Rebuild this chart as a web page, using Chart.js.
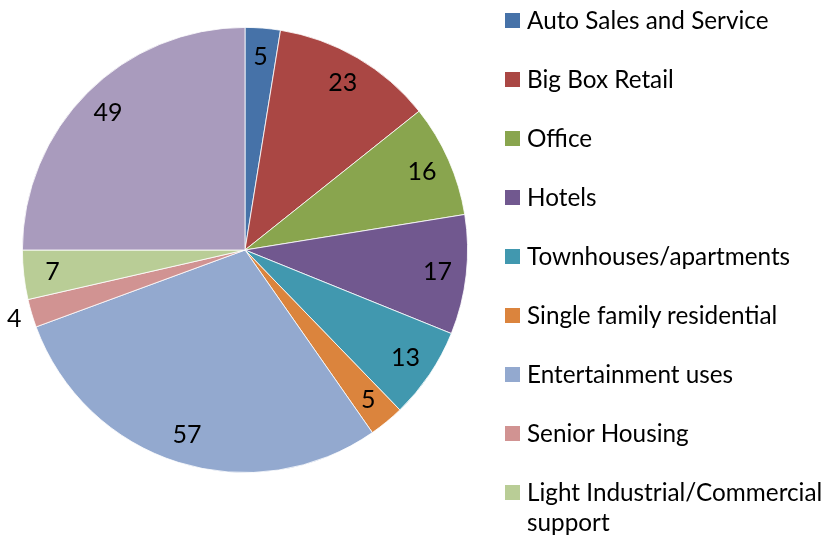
<!DOCTYPE html>
<html>
<head>
<meta charset="utf-8">
<script src="https://cdn.jsdelivr.net/npm/chart.js@4"></script>
<style>
  body { margin: 0; background: #fff; }
  #wrap { position: relative; width: 830px; height: 540px; }
  #legend { position: absolute; left: 505px; top: 0; font-family: Lato, sans-serif; font-size: 24.3px; color: #000; }
  .item { position: absolute; left: 0; width: 330px; line-height: 30px; }
  .box { position: absolute; left: 0; top: 8px; width: 15px; height: 15px; }
  .txt { position: absolute; left: 22px; white-space: nowrap; }
</style>
</head>
<body>
<div id="wrap">
  <canvas id="myChart" width="830" height="540"></canvas>
  <div id="legend"></div>
</div>
<script>
// chart data
var labels = ["Auto Sales and Service", "Big Box Retail", "Office", "Hotels",
  "Townhouses/apartments", "Single family residential", "Entertainment uses",
  "Senior Housing", "Light Industrial/Commercial support", "Other"];
var values = [5, 23, 16, 17, 13, 5, 57, 4, 7, 49];
var colors = ["#4672A8", "#AA4744", "#89A54E", "#71588F", "#4198AF",
  "#DB843D", "#93A9CF", "#D19392", "#B9CD96", "#A99BBD"];
var legendCount = 9; // last slice not shown in legend (cut off)

// value labels on slices
var sliceLabels = {
  id: "sliceLabels",
  afterDatasetsDraw(chart) {
    var ctx = chart.ctx;
    var meta = chart.getDatasetMeta(0);
    ctx.save();
    ctx.font = "25px Lato";
    ctx.fillStyle = "#000";
    ctx.textAlign = "center";
    ctx.textBaseline = "middle";
    meta.data.forEach(function (arc, i) {
      var mid = (arc.startAngle + arc.endAngle) / 2;
      var d = values[i] < 5 ? arc.outerRadius + 18 : arc.outerRadius * 0.87;
      ctx.fillText(values[i], arc.x + Math.cos(mid) * d, arc.y + Math.sin(mid) * d);
    });
    ctx.restore();
  }
};

new Chart("myChart", {
  type: "pie",
  data: {
    labels: labels,
    datasets: [{
      data: values,
      backgroundColor: colors,
      borderColor: "#ffffff",
      borderWidth: 0.8
    }]
  },
  options: {
    responsive: false,
    animation: false,
    layout: { padding: { left: 22, top: 27, right: 362, bottom: 67 } },
    plugins: {
      legend: { display: false },
      tooltip: { enabled: false }
    }
  },
  plugins: [sliceLabels]
});

// legend
var legend = document.getElementById("legend");
for (var i = 0; i < legendCount; i++) {
  var item = document.createElement("div");
  item.className = "item";
  item.style.top = (5 + i * 59) + "px";
  var box = document.createElement("div");
  box.className = "box";
  box.style.background = colors[i];
  var txt = document.createElement("div");
  txt.className = "txt";
  if (labels[i] === "Light Industrial/Commercial support") {
    txt.innerHTML = "Light Industrial/Commercial<br>support";
  } else {
    txt.textContent = labels[i];
  }
  item.appendChild(box);
  item.appendChild(txt);
  legend.appendChild(item);
}
</script>
</body>
</html>
